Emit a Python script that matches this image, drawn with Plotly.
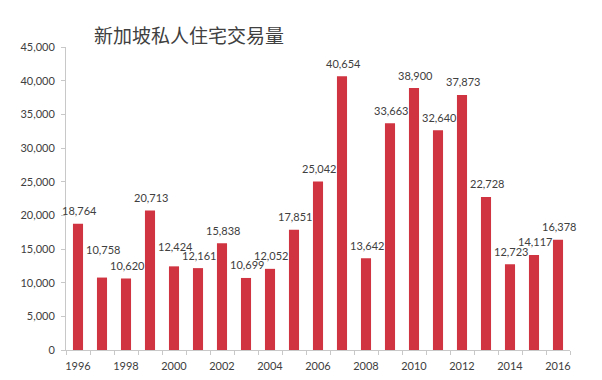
import plotly.graph_objects as go

years = list(range(1996, 2017))
volumes = [18764, 10758, 10620, 20713, 12424, 12161, 15838, 10699, 12052, 17851,
           25042, 40654, 13642, 33663, 38900, 32640, 37873, 22728, 12723, 14117, 16378]
tick_years = list(range(1996, 2017, 2))
y_ticks = list(range(0, 45001, 5000))
title_text = "新加坡私人住宅交易量"

font_family = "Lato, 'Open Sans', 'Liberation Sans', sans-serif"

L, R, T, B = 58, 40, 39, 38
W, H = 602, 380
pw, ph = W - L - R, H - T - B

# extra lift (px) of a few value labels, as in the reference, to keep them apart
label_lift = {1997: 15, 2000: 7}

fig = go.Figure()
fig.add_trace(go.Bar(
    x=years, y=volumes, width=0.42,
    marker=dict(color="#cf3440", line=dict(width=0)),
    hoverinfo="x+y",
))

annotations = [dict(
    text=title_text,
    x=(84 - L) / pw, y=1 + (T - 27) / ph,
    xref="paper", yref="paper",
    showarrow=False, xanchor="left", yanchor="middle",
    font=dict(family="'Noto Sans CJK SC', sans-serif", size=19, color="#404040"),
)]
for yr, v in zip(years, volumes):
    annotations.append(dict(
        x=yr, y=v, xref="x", yref="y", text=f"{v:,}",
        showarrow=False, xanchor="center", yanchor="middle",
        xshift=1, yshift=13 + label_lift.get(yr, 0),
        font=dict(family=font_family, size=11, color="#404040"),
    ))

fig.update_layout(
    width=W, height=H,
    margin=dict(l=L, r=R, t=T, b=B),
    paper_bgcolor="white", plot_bgcolor="white",
    showlegend=False,
    font=dict(family=font_family, size=11, color="#404040"),
    annotations=annotations,
)

fig.update_xaxes(
    range=[1995.5, 2016.5],
    tickvals=tick_years, ticktext=[str(y) for y in tick_years],
    ticks="", showgrid=False, zeroline=False,
    showline=True, linecolor="#c8c8c8", linewidth=1,
    tickfont=dict(size=11, color="#404040"),
    ticklabelstandoff=6,
    minor=dict(tick0=1995.5, dtick=1, ticks="outside", ticklen=4, tickcolor="#c8c8c8", showgrid=False),
)
fig.update_yaxes(
    range=[0, 45000],
    tickvals=y_ticks, ticktext=[f"{v:,}" for v in y_ticks],
    ticks="outside", ticklen=4, tickcolor="#c8c8c8",
    showgrid=False, zeroline=False,
    showline=True, linecolor="#c8c8c8", linewidth=1,
    tickfont=dict(size=11, color="#404040"),
    ticklabelstandoff=4,
)

fig.write_html("out.html")
